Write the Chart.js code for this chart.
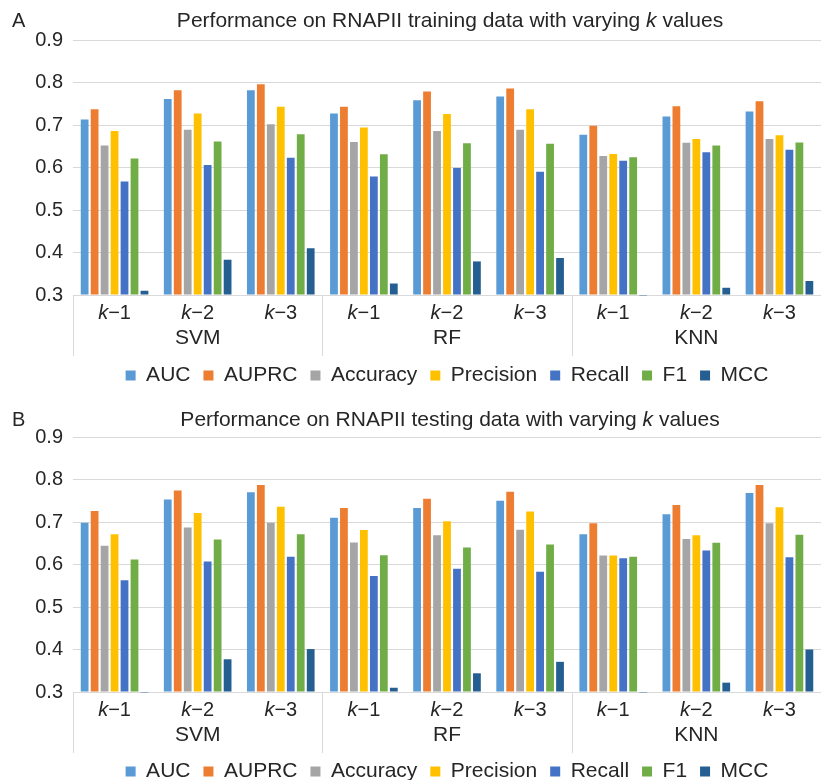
<!DOCTYPE html>
<html>
<head>
<meta charset="utf-8">
<script src="https://cdn.jsdelivr.net/npm/chart.js@4.4.1/dist/chart.umd.min.js"></script>
<style>
    html, body { margin: 0; padding: 0; background: #fff; overflow: hidden; }
    canvas { display: block; }
</style>
</head>
<body>
<canvas id="chart-train" width="821" height="396"></canvas>
<canvas id="chart-test" width="821" height="396"></canvas>
<script>
// categories and groups (multi-level x axis)
var categories = ['k−1', 'k−2', 'k−3', 'k−1', 'k−2', 'k−3', 'k−1', 'k−2', 'k−3'];
var groups = ['SVM', 'RF', 'KNN'];
var seriesNames = ['AUC', 'AUPRC', 'Accuracy', 'Precision', 'Recall', 'F1', 'MCC'];
var seriesColors = ['#5B9BD5', '#ED7D31', '#A5A5A5', '#FFC000', '#4472C4', '#70AD47', '#255E91'];
var yTicks = [0.3, 0.4, 0.5, 0.6, 0.7, 0.8, 0.9];

// A: training data
var trainAUC       = [0.713, 0.761, 0.782, 0.727, 0.758, 0.767, 0.677, 0.720, 0.732];
var trainAUPRC     = [0.737, 0.782, 0.796, 0.743, 0.779, 0.786, 0.698, 0.744, 0.756];
var trainAccuracy  = [0.652, 0.689, 0.702, 0.660, 0.686, 0.689, 0.627, 0.658, 0.667];
var trainPrecision = [0.686, 0.727, 0.743, 0.694, 0.726, 0.737, 0.632, 0.667, 0.676];
var trainRecall    = [0.567, 0.606, 0.623, 0.579, 0.599, 0.590, 0.616, 0.636, 0.642];
var trainF1        = [0.621, 0.661, 0.678, 0.631, 0.657, 0.656, 0.624, 0.652, 0.659];
var trainMCC       = [0.310, 0.383, 0.410, 0.327, 0.379, 0.387, 0.298, 0.317, 0.333];

// B: testing data
var testAUC        = [0.698, 0.753, 0.770, 0.710, 0.733, 0.750, 0.671, 0.718, 0.768];
var testAUPRC      = [0.726, 0.774, 0.787, 0.733, 0.755, 0.771, 0.697, 0.740, 0.787];
var testAccuracy   = [0.644, 0.687, 0.698, 0.652, 0.669, 0.682, 0.621, 0.660, 0.697];
var testPrecision  = [0.671, 0.721, 0.736, 0.681, 0.702, 0.725, 0.621, 0.669, 0.735];
var testRecall     = [0.563, 0.607, 0.618, 0.573, 0.590, 0.583, 0.615, 0.633, 0.617];
var testF1         = [0.612, 0.659, 0.671, 0.622, 0.640, 0.647, 0.618, 0.651, 0.670];
var testMCC        = [0.298, 0.377, 0.401, 0.310, 0.344, 0.371, 0.298, 0.322, 0.400];

var FONT = "'Liberation Sans', Arial, sans-serif";
var TEXT = '#262626';
var GRID = '#D9D9D9';

// draw a string made of [text, italic] parts, centred at x
function drawParts(ctx, parts, x, y, size) {
    var widths = parts.map(function (p) {
        ctx.font = (p[1] ? 'italic ' : '') + size + 'px ' + FONT;
        return ctx.measureText(p[0]).width;
    });
    var total = widths.reduce(function (a, b) { return a + b; }, 0);
    var cx = x - total / 2;
    ctx.textAlign = 'left';
    parts.forEach(function (p, i) {
        ctx.font = (p[1] ? 'italic ' : '') + size + 'px ' + FONT;
        ctx.fillText(p[0], cx, y);
        cx += widths[i];
    });
}

var axisLabels = {
    id: 'axisLabels',
    afterDraw: function (chart, args, opts) {
        var ctx = chart.ctx, xs = chart.scales.x, area = chart.chartArea;
        var step = xs.getPixelForValue(1) - xs.getPixelForValue(0);
        ctx.save();
        ctx.strokeStyle = GRID;
        ctx.lineWidth = 1;
        for (var g = 0; g <= groups.length; g++) {
            var px = Math.round(xs.getPixelForValue(g * 3) - step / 2) + 0.5;
            ctx.beginPath();
            ctx.moveTo(px, area.bottom);
            ctx.lineTo(px, area.bottom + 61);
            ctx.stroke();
        }
        ctx.fillStyle = TEXT;
        ctx.textBaseline = 'middle';
        categories.forEach(function (c, i) {
            drawParts(ctx, [[c.charAt(0), true], [c.slice(1), false]], xs.getPixelForValue(i), area.bottom + 18, 20);
        });
        groups.forEach(function (name, g) {
            var cx = (xs.getPixelForValue(g * 3) + xs.getPixelForValue(g * 3 + 2)) / 2;
            drawParts(ctx, [[name, false]], cx, area.bottom + 43, 21);
        });
        // title with italic k, and panel letter
        drawParts(ctx, opts.title, 450, opts.titleY, 21);
        ctx.font = '20px ' + FONT;
        ctx.textAlign = 'left';
        ctx.fillText(opts.letter, 12, opts.titleY);
        ctx.restore();
    }
};

function makeChart(id, values, letter, title, topPad, titleY, xHeight) {
    return new Chart(document.getElementById(id), {
        type: 'bar',
        data: {
            labels: categories,
            datasets: seriesNames.map(function (name, i) {
                return {
                    label: name,
                    data: values[i],
                    backgroundColor: seriesColors[i],
                    borderWidth: 0,
                    base: 0.3,
                    clip: false,
                    categoryPercentage: 0.84,
                    barPercentage: 0.78
                };
            })
        },
        options: {
            responsive: false,
            animation: false,
            layout: { padding: { top: topPad, left: 0, right: 0, bottom: 0 } },
            plugins: {
                legend: {
                    position: 'bottom',
                    fullSize: false,
                    labels: {
                        boxWidth: 10,
                        boxHeight: 10,
                        padding: 13,
                        color: TEXT,
                        font: { family: FONT, size: 21 }
                    }
                },
                tooltip: { enabled: false },
                axisLabels: { letter: letter, title: title, titleY: titleY }
            },
            scales: {
                x: {
                    grid: { display: false },
                    border: { display: false },
                    ticks: { display: false },
                    afterFit: function (s) { s.height = xHeight; }
                },
                y: {
                    min: yTicks[0],
                    max: yTicks[yTicks.length - 1],
                    grid: { color: GRID, drawTicks: false },
                    border: { display: false },
                    afterBuildTicks: function (s) {
                        s.ticks = yTicks.map(function (v) { return { value: v }; });
                    },
                    ticks: {
                        padding: 10,
                        color: TEXT,
                        font: { family: FONT, size: 20 },
                        callback: function (v) { return Number(v).toFixed(1); }
                    },
                    afterFit: function (s) { s.width = 73; }
                }
            }
        },
        plugins: [axisLabels]
    });
}

makeChart('chart-train',
    [trainAUC, trainAUPRC, trainAccuracy, trainPrecision, trainRecall, trainF1, trainMCC],
    'A',
    [['Performance on RNAPII training data with varying ', false], ['k', true], [' values', false]],
    40, 21, 57);

makeChart('chart-test',
    [testAUC, testAUPRC, testAccuracy, testPrecision, testRecall, testF1, testMCC],
    'B',
    [['Performance on RNAPII testing data with varying ', false], ['k', true], [' values', false]],
    41, 24, 56);
</script>
</body>
</html>
